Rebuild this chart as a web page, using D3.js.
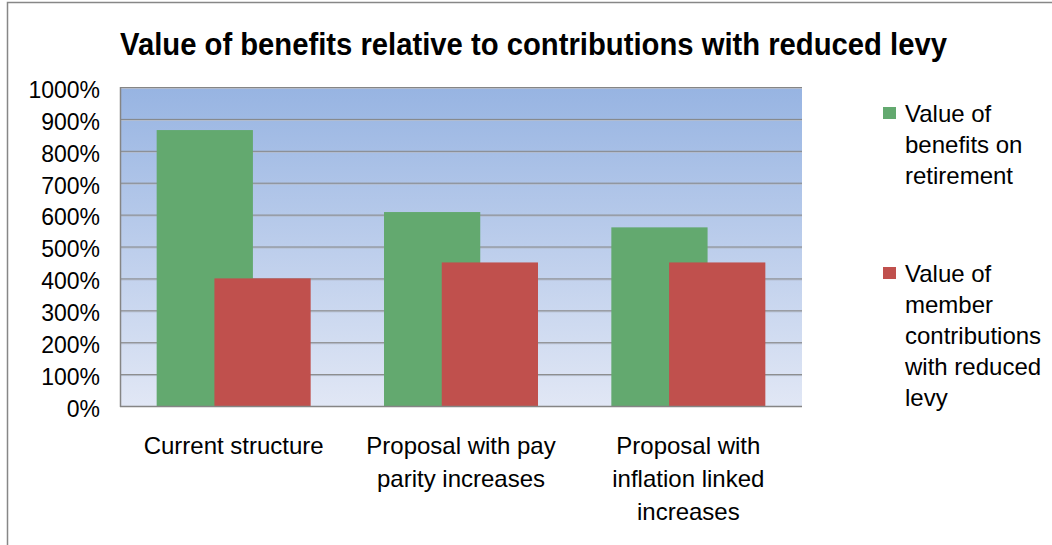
<!DOCTYPE html>
<html>
<head>
<meta charset="utf-8">
<script src="https://cdn.jsdelivr.net/npm/d3@7"></script>
<style>
  html, body { margin: 0; padding: 0; background: #ffffff; }
  svg { display: block; }
  text { font-family: "Liberation Sans", Arial, sans-serif; fill: #000; }
</style>
</head>
<body>
<svg id="chart" width="1052" height="545"></svg>
<script>
// Chart data
const chartTitle = "Value of benefits relative to contributions with reduced levy";
const categories = [
  "Current structure",
  "Proposal with pay parity increases",
  "Proposal with inflation linked increases"
];
const seriesNames = [
  "Value of benefits on retirement",
  "Value of member contributions with reduced levy"
];
const benefitsOnRetirement = [8.65, 6.08, 5.6];
const memberContributions = [4.0, 4.5, 4.5];
const yTicks = [0, 1, 2, 3, 4, 5, 6, 7, 8, 9, 10];
const seriesColors = ["#63A96F", "#C0504D"];

const series = [benefitsOnRetirement, memberContributions];

const svg = d3.select("#chart");

// Outer chart frame
svg.append("rect")
  .attr("x", 7.5).attr("y", 2.5)
  .attr("width", 1200).attr("height", 700)
  .attr("fill", "#fff")
  .attr("stroke", "#878787")
  .attr("stroke-width", 1.5);

// Title
svg.append("text")
  .attr("x", 533.5).attr("y", 54.5)
  .attr("text-anchor", "middle")
  .attr("textLength", 827)
  .attr("lengthAdjust", "spacingAndGlyphs")
  .style("font-family", "'Liberation Sans Narrow', 'Liberation Sans', Arial, sans-serif")
  .style("font-weight", "bold")
  .style("font-size", "31px")
  .text(chartTitle);

// Plot area
const plot = { left: 120, right: 802, top: 87, bottom: 406 };

const x = d3.scaleBand()
  .domain(categories)
  .range([plot.left, plot.right])
  .paddingInner(0.3226)
  .paddingOuter(0.1613);

const y = d3.scaleLinear()
  .domain([0, 10])
  .range([plot.bottom, plot.top]);

// Gradient background
const defs = svg.append("defs");
const grad = defs.append("linearGradient")
  .attr("id", "plotBg")
  .attr("x1", 0).attr("y1", 0).attr("x2", 0).attr("y2", 1);
grad.append("stop").attr("offset", "0%").attr("stop-color", "#97B4E2");
grad.append("stop").attr("offset", "100%").attr("stop-color", "#E1E7F5");

svg.append("rect")
  .attr("x", plot.left).attr("y", plot.top)
  .attr("width", plot.right - plot.left)
  .attr("height", plot.bottom - plot.top)
  .attr("fill", "url(#plotBg)");

// Gridlines with a soft shadow line beneath
const grid = svg.append("g");
grid.selectAll("line.shadow")
  .data(yTicks.filter(d => d > 0))
  .join("line")
  .attr("class", "shadow")
  .attr("x1", plot.left).attr("x2", plot.right)
  .attr("y1", d => y(d) + 1.5).attr("y2", d => y(d) + 1.5)
  .attr("stroke", "#B3BBCB").attr("stroke-width", 1);
grid.selectAll("line.major")
  .data(yTicks.filter(d => d > 0))
  .join("line")
  .attr("class", "major")
  .attr("x1", plot.left).attr("x2", plot.right)
  .attr("y1", d => y(d) + 0.5).attr("y2", d => y(d) + 0.5)
  .attr("stroke", "#858585").attr("stroke-width", 1);

// Bars: two overlapping series per category
const overlap = 0.4;
const barW = x.bandwidth() / (2 - overlap);
const step = barW * (1 - overlap);

series.forEach((vals, si) => {
  svg.append("g")
    .selectAll("rect")
    .data(categories.map((c, i) => ({ c, v: vals[i] })))
    .join("rect")
    .attr("x", d => x(d.c) + si * step)
    .attr("y", d => y(d.v))
    .attr("width", barW)
    .attr("height", d => y(0) - y(d.v))
    .attr("fill", seriesColors[si]);
});

// Axes lines
svg.append("line")
  .attr("x1", plot.left + 0.5).attr("x2", plot.left + 0.5)
  .attr("y1", plot.top).attr("y2", plot.bottom + 1)
  .attr("stroke", "#858585").attr("stroke-width", 1.5);
svg.append("line")
  .attr("x1", plot.left).attr("x2", plot.right)
  .attr("y1", plot.bottom + 0.5).attr("y2", plot.bottom + 0.5)
  .attr("stroke", "#858585").attr("stroke-width", 1.5);

// Y axis labels
const yAxis = d3.axisLeft(y)
  .tickValues(yTicks)
  .tickSize(0)
  .tickPadding(20)
  .tickFormat(d => d3.format(".0%")(d));
const yG = svg.append("g")
  .attr("transform", `translate(${plot.left},0)`)
  .call(yAxis);
yG.select(".domain").remove();
yG.selectAll("text")
  .attr("dy", "0.45em")
  .style("font-family", "'Liberation Sans', Arial, sans-serif")
  .style("font-size", "23px")
  .attr("fill", "#000");

// Wrap text into lines no wider than maxW
function wrapLines(sel, text, maxW) {
  const words = text.split(" ");
  const lines = [];
  let cur = "";
  const probe = sel.append("text").style("visibility", "hidden");
  words.forEach(w => {
    const trial = cur ? cur + " " + w : w;
    probe.text(trial);
    if (probe.node().getComputedTextLength() > maxW && cur) {
      lines.push(cur);
      cur = w;
    } else {
      cur = trial;
    }
  });
  if (cur) lines.push(cur);
  probe.remove();
  return lines;
}

// Category labels
const catG = svg.append("g")
  .style("font-size", "24px");
categories.forEach(c => {
  const lines = wrapLines(catG, c, 205);
  const t = catG.append("text")
    .attr("text-anchor", "middle")
    .attr("x", x(c) + x.bandwidth() / 2)
    .attr("y", plot.bottom + 48);
  lines.forEach((ln, i) => {
    t.append("tspan")
      .attr("x", x(c) + x.bandwidth() / 2)
      .attr("dy", i === 0 ? 0 : 33)
      .text(ln);
  });
});

// Legend
const legG = svg.append("g")
  .attr("transform", "translate(883,103)")
  .style("font-size", "24px");
seriesNames.forEach((name, si) => {
  const g = legG.append("g").attr("transform", `translate(0,${si * 160})`);
  g.append("rect")
    .attr("x", 0).attr("y", 4)
    .attr("width", 13).attr("height", 12)
    .attr("fill", seriesColors[si]);
  const lines = wrapLines(g, name, 150);
  const t = g.append("text").attr("x", 22).attr("y", 18.5);
  lines.forEach((ln, i) => {
    t.append("tspan")
      .attr("x", 22)
      .attr("dy", i === 0 ? 0 : 31)
      .text(ln);
  });
});
</script>
</body>
</html>
